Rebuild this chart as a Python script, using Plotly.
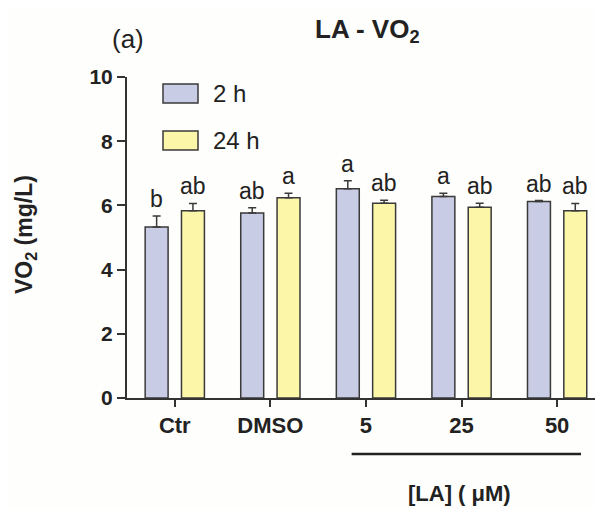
import plotly.graph_objects as go

categories = ["Ctr", "DMSO", "5", "25", "50"]
vals_2h = [5.33, 5.76, 6.52, 6.28, 6.12]
err_2h = [0.34, 0.17, 0.25, 0.10, 0.03]
vals_24h = [5.83, 6.24, 6.07, 5.94, 5.83]
err_24h = [0.23, 0.14, 0.09, 0.13, 0.23]
letters_2h = ["b", "ab", "a", "a", "ab"]
letters_24h = ["ab", "a", "ab", "ab", "ab"]
series_names = ["2 h", "24 h"]
colors = ["#c8cce5", "#fcf6a8"]

xpos = list(range(len(categories)))
BW = 0.24
OFF = 0.19
FONT = "Liberation Sans, Arial"
TXT = "#222"

fig = go.Figure()
for vals, errs, name, col, sign in [(vals_2h, err_2h, series_names[0], colors[0], -1),
                                    (vals_24h, err_24h, series_names[1], colors[1], 1)]:
    fig.add_trace(go.Bar(
        x=xpos, y=vals, name=name, width=BW, offset=sign * OFF - BW / 2,
        marker=dict(color=col, line=dict(color="#3a3a3a", width=1.5)),
        error_y=dict(type="data", array=errs, arrayminus=[0] * len(errs), symmetric=False,
                     color="#3a3a3a", thickness=1.5, width=4),
        showlegend=False,
    ))

# significance letters
for vals, errs, lets, sign in [(vals_2h, err_2h, letters_2h, -1), (vals_24h, err_24h, letters_24h, 1)]:
    for i, (v, e, l) in enumerate(zip(vals, errs, lets)):
        fig.add_annotation(x=xpos[i] + sign * OFF, y=v + e, text=l, showarrow=False,
                           xanchor="center", yanchor="bottom", yshift=2,
                           font=dict(family=FONT, size=23, color=TXT))

# pixel helpers relative to plot area (plot spans x 127..603, y 77..398 in the page)
pw = 476.0
ph = 321.0
def px_x(p):
    return (p - 127) / pw
def px_y(p):
    return (398 - p) / ph

# custom legend
for (y0, y1), col, name in [((84, 103), colors[0], series_names[0]), ((131, 150), colors[1], series_names[1])]:
    fig.add_shape(type="rect", xref="paper", yref="paper", x0=px_x(163), x1=px_x(198),
                  y0=px_y(y1), y1=px_y(y0), fillcolor=col, line=dict(color="#3a3a3a", width=1.5))
    fig.add_annotation(xref="paper", yref="paper", x=px_x(211), y=px_y((y0 + y1) / 2), text=name,
                       showarrow=False, xanchor="left", yanchor="middle",
                       font=dict(family=FONT, size=24, color=TXT))

# bracket under LA concentrations
fig.add_shape(type="line", xref="x", yref="paper", x0=1.85, x1=4.25, y0=px_y(454), y1=px_y(454),
              line=dict(color="#222", width=2.5))
fig.add_annotation(xref="x", yref="paper", x=(460 - 175) / 95.7, y=px_y(493), text="<b>[LA] ( \u03bcM)</b>",
                   showarrow=False, xanchor="center", yanchor="middle",
                   font=dict(family=FONT, size=22, color=TXT))

# title and panel label
fig.add_annotation(xref="paper", yref="paper", x=px_x(367), y=px_y(30), text="<b>LA - VO<sub>2</sub></b>",
                   showarrow=False, xanchor="center", yanchor="middle",
                   font=dict(family=FONT, size=26, color=TXT))
fig.add_annotation(xref="paper", yref="paper", x=px_x(128), y=px_y(39), text="(a)",
                   showarrow=False, xanchor="center", yanchor="middle",
                   font=dict(family=FONT, size=26, color=TXT))
# y-axis title
fig.add_annotation(xref="paper", yref="paper", x=px_x(25), y=px_y(235), text="<b>VO<sub>2</sub> (mg/L)</b>",
                   textangle=-90, showarrow=False, xanchor="center", yanchor="middle",
                   font=dict(family=FONT, size=23, color=TXT))

# page body has an 8px margin: compensate so the plot sits at x 127..603, y 77..398
fig.update_layout(
    width=603, height=508,
    margin=dict(l=119, r=8, t=69, b=118, autoexpand=False),
    paper_bgcolor="#fefefc", plot_bgcolor="#fefefc",
    barmode="overlay",
    font=dict(family=FONT, color=TXT),
)
fig.update_xaxes(range=[-0.5, 4.48], tickvals=xpos, ticktext=["<b>%s</b>" % c for c in categories],
                 ticks="outside", ticklen=7, tickwidth=2, tickcolor="#333",
                 showline=True, linecolor="#333", linewidth=2, showgrid=False, zeroline=False,
                 tickfont=dict(size=22, family=FONT, color=TXT))
fig.update_yaxes(range=[0, 10], tickvals=[0, 2, 4, 6, 8, 10], ticktext=["<b>%d</b>" % v for v in [0, 2, 4, 6, 8, 10]],
                 ticks="outside", ticklen=8, tickwidth=2, tickcolor="#333",
                 showline=True, linecolor="#333", linewidth=2, showgrid=False, zeroline=False,
                 tickfont=dict(size=21, family=FONT, color=TXT))

fig.write_html("out.html")
